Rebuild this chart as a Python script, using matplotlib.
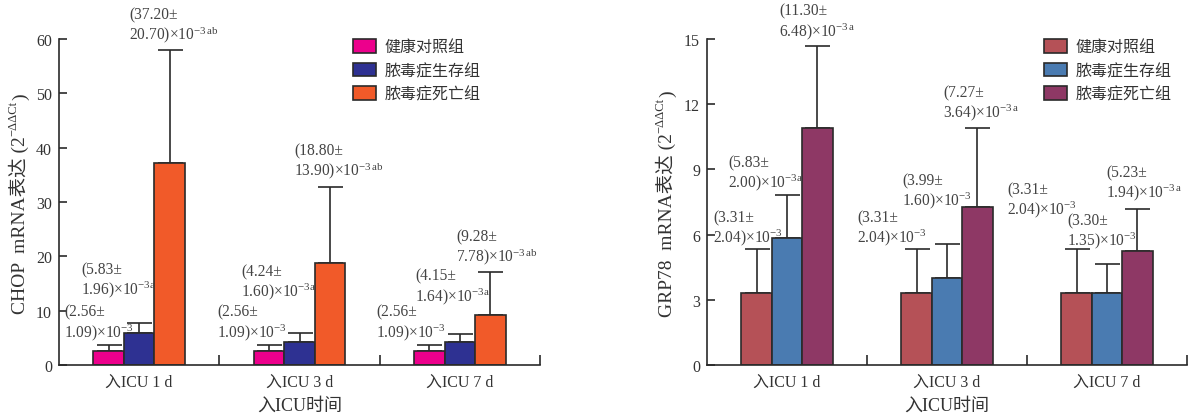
import matplotlib
matplotlib.use("Agg")
import matplotlib.pyplot as plt
import numpy as np
from matplotlib.ticker import FixedLocator

plt.rcParams['font.family'] = ['Liberation Serif', 'Noto Sans CJK SC', 'DejaVu Sans']
plt.rcParams['mathtext.fontset'] = 'custom'
plt.rcParams['mathtext.rm'] = 'Liberation Serif'
plt.rcParams['mathtext.it'] = 'Liberation Serif:italic'
plt.rcParams['mathtext.bf'] = 'Liberation Serif:bold'

# ---------------- data ----------------
categories = ["入ICU 1 d", "入ICU 3 d", "入ICU 7 d"]
groups = ["健康对照组", "脓毒症生存组", "脓毒症死亡组"]

chop_healthy = [2.56, 2.56, 2.56]
chop_survive = [5.83, 4.24, 4.15]
chop_death = [37.20, 18.80, 9.28]
chop_healthy_err = [1.09, 1.09, 1.09]
chop_survive_err = [1.96, 1.60, 1.64]
chop_death_err = [20.70, 13.90, 7.78]

grp_healthy = [3.31, 3.31, 3.31]
grp_survive = [5.83, 3.99, 3.30]
grp_death = [10.90, 7.27, 5.23]
grp_healthy_err = [2.04, 2.04, 2.04]
grp_survive_err = [2.00, 1.60, 1.35]
grp_death_err = [3.80, 3.64, 1.94]

chop_labels = ["(37.20±\n20.70)×10$^{-3\\,\\mathrm{ab}}$",
               "(5.83±\n1.96)×10$^{-3\\mathrm{a}}$",
               "(2.56±\n1.09)×10$^{-3}$",
               "(18.80±\n13.90)×10$^{-3\\,\\mathrm{ab}}$",
               "(4.24±\n1.60)×10$^{-3\\mathrm{a}}$",
               "(2.56±\n1.09)×10$^{-3}$",
               "(2.56±\n1.09)×10$^{-3}$",
               "(4.15±\n1.64)×10$^{-3\\mathrm{a}}$",
               "(9.28±\n7.78)×10$^{-3\\,\\mathrm{ab}}$"]
chop_label_px = [(129, 26.5), (81, 281), (64, 323.5), (294, 162.5), (241, 283),
                 (217, 323.5), (376, 323.5), (415, 287.5), (456, 249)]

grp_labels = ["(11.30±\n6.48)×10$^{-3\\,\\mathrm{a}}$",
              "(5.83±\n2.00)×10$^{-3\\mathrm{a}}$",
              "(3.31±\n2.04)×10$^{-3}$",
              "(3.31±\n2.04)×10$^{-3}$",
              "(3.99±\n1.60)×10$^{-3}$",
              "(7.27±\n3.64)×10$^{-3\\,\\mathrm{a}}$",
              "(3.31±\n2.04)×10$^{-3}$",
              "(3.30±\n1.35)×10$^{-3}$",
              "(5.23±\n1.94)×10$^{-3\\,\\mathrm{a}}$"]
grp_label_px = [(779, 22.5), (728, 174), (713, 229), (857, 229), (902, 192),
                (943, 104), (1007, 201), (1067, 232), (1106, 184)]

chop_ylabel = ("CHOP  mRNA表达 (2", "−ΔΔCt", ")")
grp_ylabel = ("GRP78  mRNA表达 (2", "−ΔΔCt", ")")

chop_colors = ["#EC008C", "#2E3192", "#F15A29"]
grp_colors = ["#B55157", "#4A7BB1", "#8E3865"]

W, H = 1192, 414
fig = plt.figure(figsize=(W / 100, H / 100), dpi=100)
ax1 = fig.add_axes([59 / W, 1 - 366 / H, (540 - 59) / W, (366 - 40) / H])
ax2 = fig.add_axes([707 / W, 1 - 366 / H, (1187 - 707) / W, (366 - 40) / H])

edge = "#2a2a2a"
txt = "#333333"
fs = 11.5


def draw(ax, vals, errs, colors, ymax, yticks, labels, label_px, legend_px):
    x = np.arange(len(categories))
    w = 0.19
    for i, (v, e, c, g) in enumerate(zip(vals, errs, colors, groups)):
        pos = x + (i - 1) * w
        ax.bar(pos, v, width=w, color=c, edgecolor=edge, linewidth=1.2, label=g, zorder=2)
        ax.errorbar(pos, v, yerr=[np.zeros(len(e)), e], fmt="none", ecolor=edge,
                    elinewidth=1.2, capsize=9, capthick=1.2, zorder=1)
    ax.set_xlim(-0.5, 2.5)
    ax.set_ylim(0, ymax)
    ax.set_yticks(yticks)
    ax.set_xticks(x)
    ax.set_xticklabels(categories)
    ax.xaxis.set_minor_locator(FixedLocator([0.5, 1.5, 2.5]))
    ax.tick_params(axis="x", which="major", length=0, pad=6, labelsize=fs, colors=txt)
    ax.tick_params(axis="x", which="minor", direction="in", length=7, width=1.2, color=edge)
    ax.tick_params(axis="y", direction="in", length=6, width=1.2, pad=5, labelsize=fs,
                   colors=txt, color=edge)
    for s in ["top", "right"]:
        ax.spines[s].set_visible(False)
    for s in ["left", "bottom"]:
        ax.spines[s].set_linewidth(1.2)
        ax.spines[s].set_color(edge)
    ax.set_xlabel("入ICU时间", fontsize=fs + 1.5, color=txt, labelpad=5)
    for lab, (px, py) in zip(labels, label_px):
        fig.text(px / W, 1 - py / H, lab, ha="left", va="center", fontsize=fs - 0.3,
                 color="#444444", linespacing=1.1)
    leg = ax.legend(loc="upper left", bbox_to_anchor=(legend_px[0] / W, 1 - legend_px[1] / H),
                    bbox_transform=fig.transFigure, frameon=False, borderpad=0,
                    borderaxespad=0, handlelength=1.45, handleheight=0.95,
                    handletextpad=0.55, labelspacing=0.45, fontsize=fs)
    for t in leg.get_texts():
        t.set_color(txt)
    for p in leg.get_patches():
        p.set_linewidth(1.2)


def ylabel_pieces(parts, base_x_px, center_y_px):
    """Rotated label built from main text, superscript and closing bracket."""
    r = fig.canvas.get_renderer()
    kw = dict(rotation=90, rotation_mode="anchor", ha="left", va="baseline", color=txt)
    t1 = fig.text(0, 0, parts[0], fontsize=fs + 2.5, **kw)
    t2 = fig.text(0, 0, parts[1], fontsize=fs - 2.5, **kw)
    t3 = fig.text(0, 0, parts[2], fontsize=fs + 2.5, **kw)
    l1 = t1.get_window_extent(r).height
    l2 = t2.get_window_extent(r).height
    l3 = t3.get_window_extent(r).height
    total = l1 + l2 + l3 + 1
    y0 = (H - center_y_px) - total / 2
    t1.set_position((base_x_px / W, y0 / H))
    t2.set_position(((base_x_px - 9) / W, (y0 + l1 + 0.5) / H))
    t3.set_position((base_x_px / W, (y0 + l1 + l2 + 1) / H))


draw(ax1, [chop_healthy, chop_survive, chop_death],
     [chop_healthy_err, chop_survive_err, chop_death_err],
     chop_colors, 60, [0, 10, 20, 30, 40, 50, 60], chop_labels, chop_label_px, (353, 40))
draw(ax2, [grp_healthy, grp_survive, grp_death],
     [grp_healthy_err, grp_survive_err, grp_death_err],
     grp_colors, 15, [0, 3, 6, 9, 12, 15], grp_labels, grp_label_px, (1044, 40))

fig.canvas.draw()
ylabel_pieces(chop_ylabel, 25, 204)
ylabel_pieces(grp_ylabel, 672, 204)

fig.savefig("out.png", dpi=100)
